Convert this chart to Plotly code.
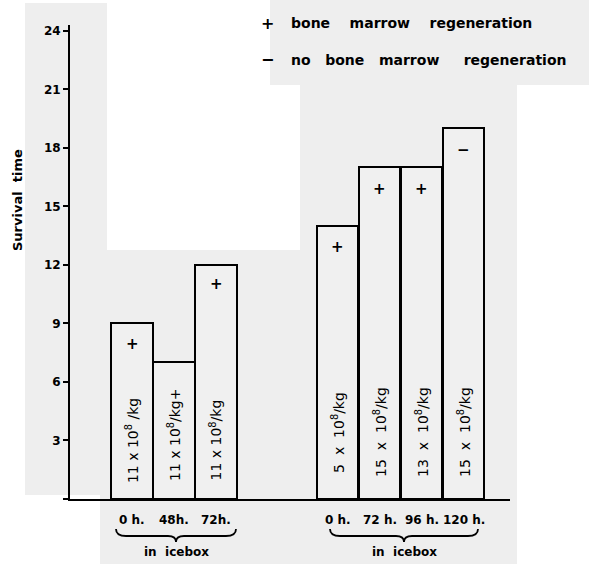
import plotly.graph_objects as go

# ---- data ----
positions = [0, 1, 2, 4.9, 5.9, 6.9, 7.9]
survival = [9, 7, 12, 14, 17, 17, 19]
hour_labels = ["0 h.", "48h.", "72h.", "0 h.", "72 h.", "96 h.", "120 h."]
dose_labels = ["11 x 10<sup>8</sup> /kg", "11 x 10<sup>8</sup>/kg+", "11 x 10<sup>8</sup>/kg",
               "5  x  10<sup>8</sup>/kg", "15  x  10<sup>8</sup>/kg", "13  x  10<sup>8</sup>/kg",
               "15  x  10<sup>8</sup>/kg"]
dose_label_y = [2.97, 3.28, 3.0, 3.43, 3.43, 3.43, 3.43]
regen_marks = ["+", "", "+", "+", "+", "+", "\u2212"]
regen_mark_y = [7.95, None, 11.0, 12.9, 15.9, 15.9, 17.9]
y_ticks = [3, 6, 9, 12, 15, 18, 21, 24]

W, H = 589, 564
L, R, T, B = 70, 79, 25, 65
PW, PH = W - L - R, H - T - B

def px(x):
    return (x - L) / PW

def py(y):
    return (H - B - y) / PH

FONT = "DejaVu Sans"

fig = go.Figure()
fig.add_trace(go.Bar(
    x=positions, y=survival, width=0.98,
    marker=dict(color="#f0f0f0", line=dict(color="black", width=2)),
    hoverinfo="skip",
))

ann = []
for xp, lab, ly in zip(positions, dose_labels, dose_label_y):
    ann.append(dict(x=xp, y=ly, xref="x", yref="y", text=lab, textangle=-90,
                    showarrow=False, xanchor="center", yanchor="middle",
                    font=dict(family=FONT, size=14, color="black")))
for xp, m, my in zip(positions, regen_marks, regen_mark_y):
    if m and my is not None:
        ann.append(dict(x=xp, y=my, xref="x", yref="y", text="<b>" + m + "</b>",
                        showarrow=False, font=dict(family=FONT, size=15, color="black")))
for xp, hl in zip(positions, hour_labels):
    ann.append(dict(x=xp, y=py(520), xref="x", yref="paper", text="<b>" + hl + "</b>",
                    showarrow=False, xanchor="center", yanchor="middle",
                    font=dict(family=FONT, size=12, color="black")))
for cx in [176, 404]:
    ann.append(dict(x=px(cx), y=py(552), xref="paper", yref="paper", text="<b>in  icebox</b>",
                    showarrow=False, xanchor="center", yanchor="middle",
                    font=dict(family=FONT, size=12, color="black")))
# y-axis title
ann.append(dict(x=px(17), y=py(200), xref="paper", yref="paper", text="<b>Survival  time</b>",
                textangle=-90, showarrow=False, xanchor="center", yanchor="middle",
                font=dict(family=FONT, size=13, color="black")))
# legend texts
ann.append(dict(x=px(267), y=py(23), xref="paper", yref="paper", text="<b>+</b>",
                showarrow=False, xanchor="center", yanchor="middle",
                font=dict(family=FONT, size=16, color="black")))
ann.append(dict(x=px(267), y=py(60), xref="paper", yref="paper", text="<b>\u2212</b>",
                showarrow=False, xanchor="center", yanchor="middle",
                font=dict(family=FONT, size=16, color="black")))
ann.append(dict(x=px(289), y=py(23), xref="paper", yref="paper",
                text="<b>bone    marrow    regeneration</b>",
                showarrow=False, xanchor="left", yanchor="middle",
                font=dict(family=FONT, size=14, color="black")))
ann.append(dict(x=px(289), y=py(60), xref="paper", yref="paper",
                text="<b>no   bone   marrow     regeneration</b>",
                showarrow=False, xanchor="left", yanchor="middle",
                font=dict(family=FONT, size=14, color="black")))

shapes = []
gray = "#eeeeee"
for (x0, y0, x1, y1) in [(25, 3, 107, 495), (100, 250, 300, 564), (300, 70, 517, 564),
                         (270, 0, 589, 85)]:
    shapes.append(dict(type="rect", xref="paper", yref="paper",
                       x0=px(x0), x1=px(x1), y0=py(y1), y1=py(y0),
                       fillcolor=gray, line=dict(width=0), layer="below"))
# baseline stub left of axis
shapes.append(dict(type="line", xref="paper", yref="paper", x0=px(63), x1=px(70),
                   y0=py(499), y1=py(499), line=dict(color="black", width=2)))

def brace(x0, x1, ytop, depth=7, tip=13):
    xm = (x0 + x1) / 2
    pts = (f"M {px(x0)} {py(ytop)} Q {px(x0)} {py(ytop+depth)} {px(x0+10)} {py(ytop+depth)} "
           f"L {px(xm-8)} {py(ytop+depth)} Q {px(xm)} {py(ytop+depth)} {px(xm)} {py(ytop+tip)} "
           f"Q {px(xm)} {py(ytop+depth)} {px(xm+8)} {py(ytop+depth)} "
           f"L {px(x1-10)} {py(ytop+depth)} Q {px(x1)} {py(ytop+depth)} {px(x1)} {py(ytop)}")
    return dict(type="path", xref="paper", yref="paper", path=pts,
                line=dict(color="black", width=1.8))

shapes.append(brace(116, 236, 529))
shapes.append(brace(330, 478, 529))

fig.update_layout(
    width=W, height=H,
    margin=dict(l=L, r=R, t=T, b=B),
    paper_bgcolor="white", plot_bgcolor="rgba(0,0,0,0)",
    showlegend=False,
    bargap=0,
    xaxis=dict(range=[(70 - 132) / 42, (510 - 132) / 42], showgrid=False, zeroline=False,
               showticklabels=False, ticks="", showline=True, linecolor="black", linewidth=2,
               automargin=False),
    yaxis=dict(range=[0, 24.3], tickvals=y_ticks, ticktext=[str(v) for v in y_ticks],
               ticks="outside", ticklen=5, tickwidth=1.5, tickcolor="black",
               showgrid=False, zeroline=False, showline=True, linecolor="black", linewidth=2,
               automargin=False,
               tickfont=dict(family=FONT, size=12, color="black", weight="bold")),
    annotations=ann,
    shapes=shapes,
)

fig.write_html("out.html", config={"displayModeBar": False},
               post_script="document.body.style.margin='0';document.body.style.padding='0';")
